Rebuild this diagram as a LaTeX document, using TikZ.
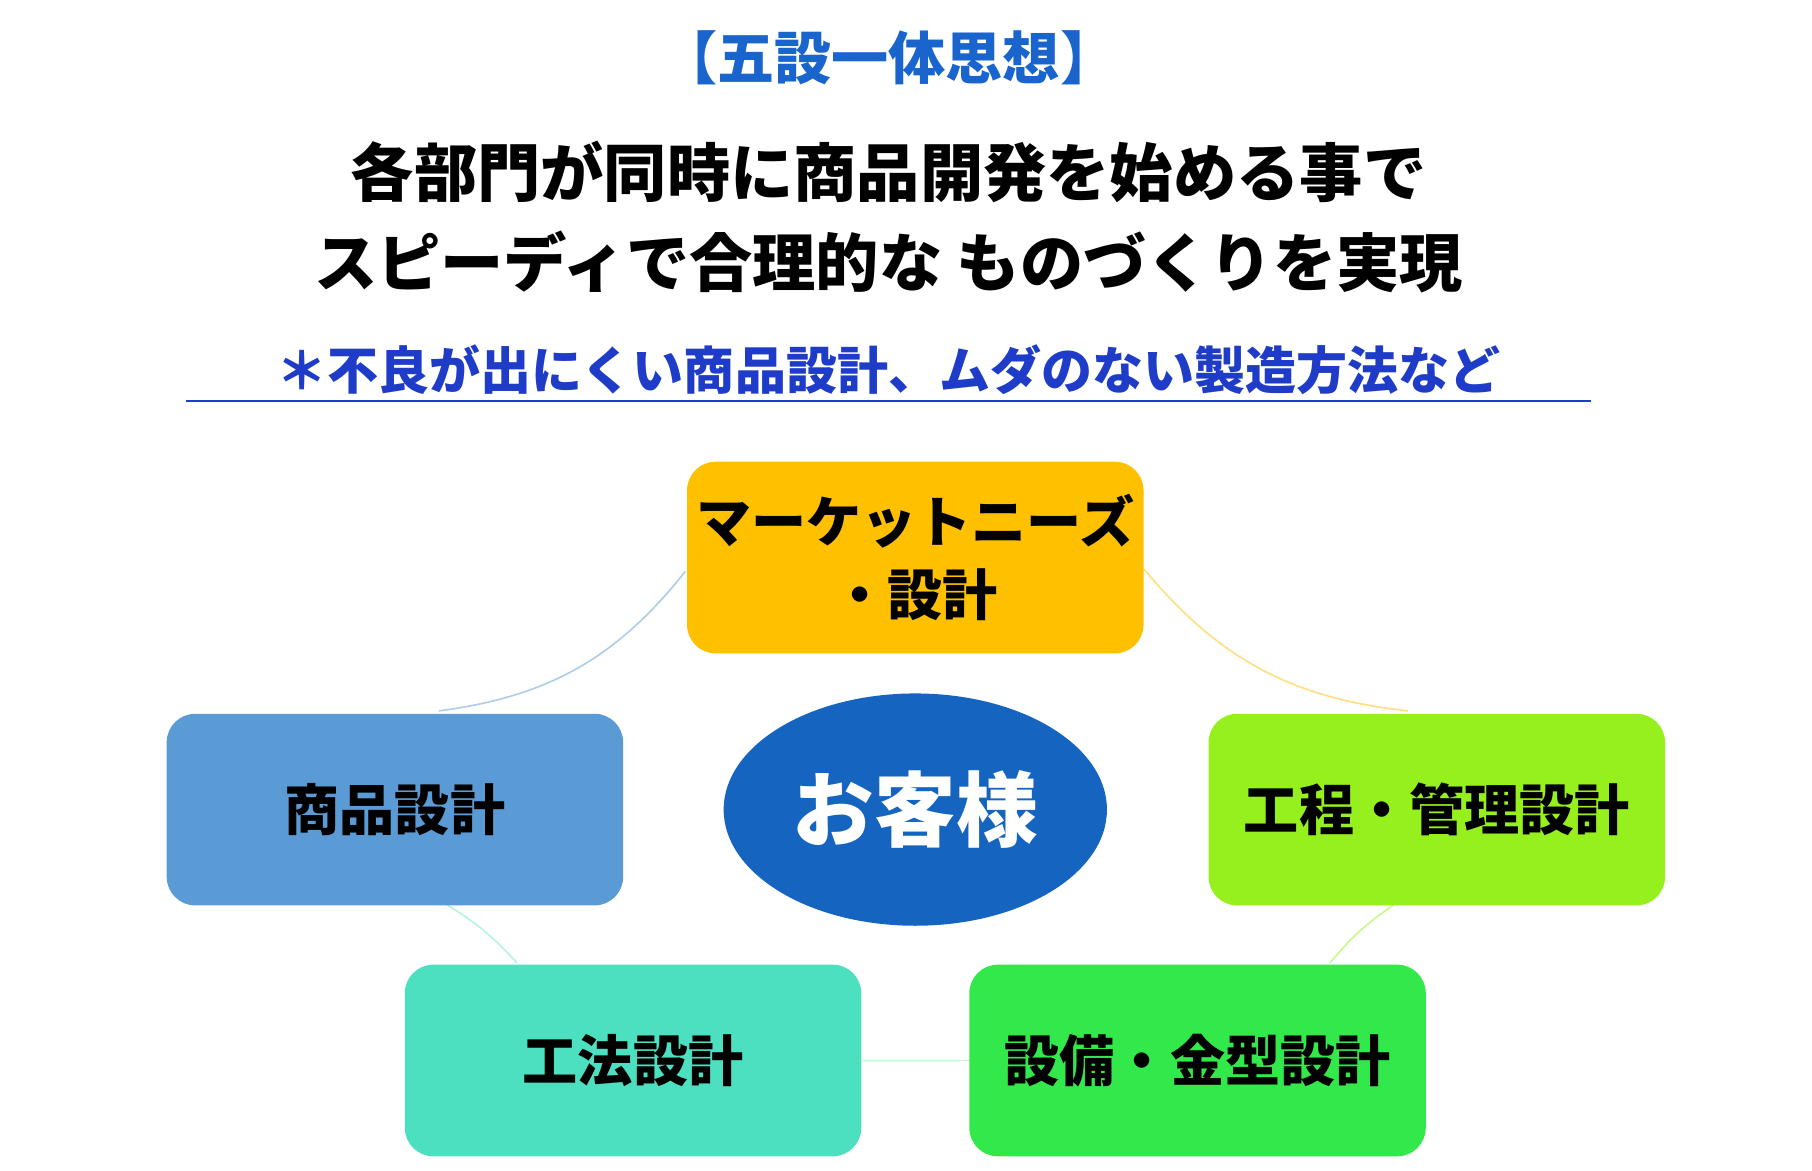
\documentclass[tikz,border=0pt]{standalone}
\usepackage{fontspec}
\setmainfont{Noto Sans CJK JP}
\usetikzlibrary{calc, shapes.geometric}
\definecolor{ttlblue}{RGB}{25,100,205}
\definecolor{notblue}{RGB}{30,60,200}
\definecolor{mktc}{RGB}{255,192,0}
\definecolor{shoc}{RGB}{91,155,213}
\definecolor{kotc}{RGB}{150,240,30}
\definecolor{kohc}{RGB}{76,223,192}
\definecolor{setc}{RGB}{50,232,74}
\definecolor{kyac}{RGB}{21,101,192}
\tikzstyle{box}=[draw=none, rounded corners=14pt, minimum width=393*0.02cm, minimum height=165*0.02cm, align=center, font=\bfseries\fontsize{27}{36}\selectfont]
\tikzstyle{ring}=[line width=0.8pt]
\begin{document}
\begin{tikzpicture}[x=0.02cm,y=-0.02cm]
      \useasboundingbox (0,0) rectangle (1560,1008);
      \node [text=ttlblue, font=\bfseries\fontsize{28}{32}\selectfont] (ttl) at (765,50) {【五設一体思想】};
      \node [font=\bfseries\fontsize{31}{44}\selectfont, align=center] (msg) at (765,187) {各部門が同時に商品開発を始める事で\\スピーディで合理的な ものづくりを実現};
      \node [text=notblue, font=\bfseries\fontsize{25}{30}\selectfont] (note) at (765,318) {＊不良が出にくい商品設計、ムダのない製造方法など};
      \draw [notblue, line width=1.2pt] (160,345) -- (1370,345);

      % connecting ring first, boxes on top
      \coordinate (mkt) at (788,480);
      \coordinate (sho) at (340,697);
      \coordinate (kot) at (1237,697);
      \coordinate (koh) at (545,913);
      \coordinate (set) at (1031,913);
      \draw [ring, shoc!50] (590,492) to[bend left=22] (378,612);
      \draw [ring, mktc!50] (985,490) to[bend right=22] (1212,612);
      \draw [ring, kohc!40] (385,779) to[bend left=8] (445,829);
      \draw [ring, kotc!50] (1200,779) to[bend right=8] (1145,829);
      \draw [ring, setc!30] (742,913) -- (835,913);

      \node [box, fill=mktc] (mktb) at (mkt) {マーケットニーズ\\・設計};
      \node [box, fill=shoc] (shob) at (sho) {商品設計};
      \node [box, fill=kotc] (kotb) at (kot) {工程・管理設計};
      \node [box, fill=kohc] (kohb) at (koh) {工法設計};
      \node [box, fill=setc] (setb) at (set) {設備・金型設計};
      \node [ellipse, fill=kyac, text=white, minimum width=330*0.02cm, minimum height=200*0.02cm, font=\bfseries\fontsize{40}{44}\selectfont] (kya) at (788,697) {お客様};
\end{tikzpicture}
\end{document}
